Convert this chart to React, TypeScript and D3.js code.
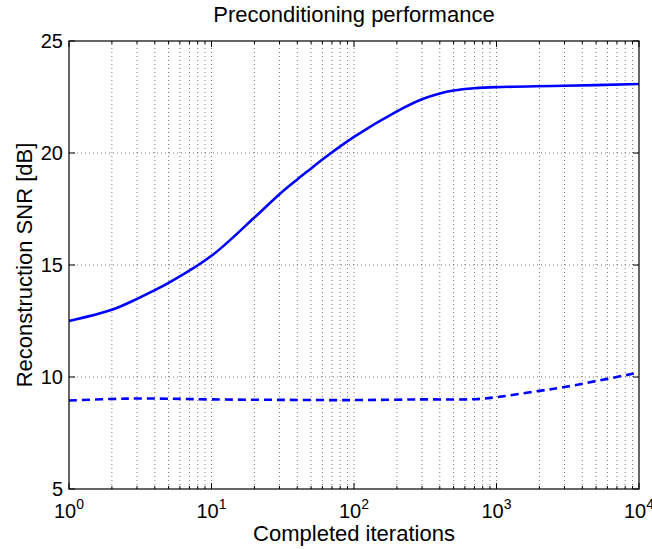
import React from 'react';
import * as d3 from 'd3';

// iterations (log axis) and reconstruction SNR in dB
const itersSolid = [1, 2, 3, 5, 10, 20, 30, 40, 50, 60, 100, 200, 300, 400, 500, 700, 1000, 3000, 10000];
const snrSolid = [12.5, 13.0, 13.49, 14.2, 15.41, 17.12, 18.16, 18.82, 19.31, 19.71, 20.72, 21.86, 22.4, 22.66, 22.79, 22.89, 22.94, 23.0, 23.08];

const itersDashed = [1, 2, 3, 5, 10, 30, 100, 300, 700, 1000, 2000, 3000, 5000, 10000];
const snrDashed = [8.95, 9.02, 9.04, 9.03, 9.0, 8.98, 8.97, 9.0, 9.01, 9.1, 9.38, 9.55, 9.82, 10.2];

const yTicks = [5, 10, 15, 20, 25];
const xDecades = [0, 1, 2, 3, 4];

const width = 652;
const height = 549;
const margin = { left: 69, right: 13, top: 41, bottom: 60 };
const font = 'Liberation Sans, Arial, Helvetica, sans-serif';

const App: React.FC = () => {
  const x = d3.scaleLog().domain([1, 10000]).range([margin.left, width - margin.right]);
  const y = d3.scaleLinear().domain([5, 25]).range([height - margin.bottom, margin.top]);
  const x0 = x.range()[0], x1 = x.range()[1];
  const y0 = y.range()[0], y1 = y.range()[1];

  const line = d3.line<[number, number]>()
    .x(d => x(d[0]))
    .y(d => y(d[1]))
    .curve(d3.curveCatmullRom.alpha(0.5));

  const solid = line(itersSolid.map((v, i) => [v, snrSolid[i]] as [number, number])) || '';
  const dashed = line(itersDashed.map((v, i) => [v, snrDashed[i]] as [number, number])) || '';

  const minor: number[] = [];
  xDecades.slice(0, -1).forEach(k => {
    for (let m = 2; m <= 9; m++) minor.push(m * Math.pow(10, k));
  });
  const major = xDecades.map(k => Math.pow(10, k));

  const gridStyle = { stroke: '#333', strokeWidth: 0.8, strokeDasharray: '1,3', opacity: 0.8 };

  return (
    <svg width={width} height={height} style={{ position: 'absolute', left: 0, top: 0, background: '#fff' }}
      fontFamily={font}>
      {/* grid */}
      {[...minor, ...major.slice(1, -1)].map(v => (
        <line key={'gx' + v} x1={x(v)} x2={x(v)} y1={y0} y2={y1} {...gridStyle} />
      ))}
      {yTicks.slice(1, -1).map(v => (
        <line key={'gy' + v} x1={x0} x2={x1} y1={y(v)} y2={y(v)} {...gridStyle} />
      ))}

      {/* data */}
      <path d={solid} fill="none" stroke="#0000ff" strokeWidth={2.6} strokeLinejoin="round" />
      <path d={dashed} fill="none" stroke="#0000ff" strokeWidth={2.6} strokeDasharray="8,5" />

      {/* ticks */}
      {minor.map(v => (
        <g key={'mt' + v} stroke="#000" strokeWidth={1}>
          <line x1={x(v)} x2={x(v)} y1={y0} y2={y0 - 3} />
          <line x1={x(v)} x2={x(v)} y1={y1} y2={y1 + 3} />
        </g>
      ))}
      {major.map(v => (
        <g key={'Mt' + v} stroke="#000" strokeWidth={1}>
          <line x1={x(v)} x2={x(v)} y1={y0} y2={y0 - 6} />
          <line x1={x(v)} x2={x(v)} y1={y1} y2={y1 + 6} />
        </g>
      ))}
      {yTicks.map(v => (
        <g key={'yt' + v} stroke="#000" strokeWidth={1}>
          <line x1={x0} x2={x0 + 6} y1={y(v)} y2={y(v)} />
          <line x1={x1} x2={x1 - 6} y1={y(v)} y2={y(v)} />
        </g>
      ))}

      {/* box */}
      <rect x={x0} y={y1} width={x1 - x0} height={y0 - y1} fill="none" stroke="#000" strokeWidth={1.2} />

      {/* tick labels */}
      {yTicks.map(v => (
        <text key={'yl' + v} x={x0 - 6} y={y(v)} dy="0.36em" textAnchor="end" fontSize={20} fill="#000">{v}</text>
      ))}
      {xDecades.map(k => (
        <text key={'xl' + k} x={x(Math.pow(10, k))} y={y0 + 29} textAnchor="middle" fontSize={20} fill="#000">
          <tspan>10</tspan>
          <tspan fontSize={14} dy={-9}>{k}</tspan>
        </text>
      ))}

      {/* labels */}
      <text x={(x0 + x1) / 2} y={22} textAnchor="middle" fontSize={22} fill="#000">Preconditioning performance</text>
      <text x={(x0 + x1) / 2} y={541} textAnchor="middle" fontSize={22} fill="#000">Completed iterations</text>
      <text transform={`translate(32,${(y0 + y1) / 2}) rotate(-90)`} textAnchor="middle" fontSize={22} fill="#000">
        Reconstruction SNR [dB]
      </text>
    </svg>
  );
};

export default App;
